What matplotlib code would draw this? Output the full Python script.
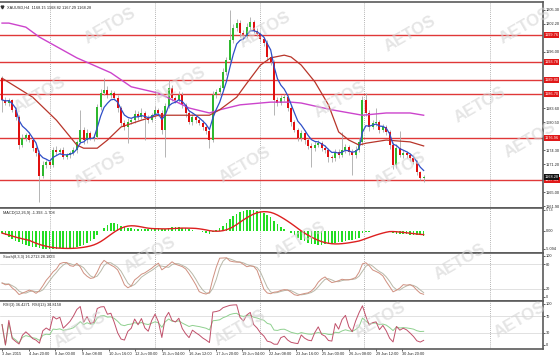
import numpy as np
import pandas as pd
import matplotlib
matplotlib.use("Agg")
import matplotlib.pyplot as plt
from matplotlib.transforms import blended_transform_factory

# XAUUSD H4 bars
first_open = 1190.2
closes = [
    1185.4, 1184.7, 1185.4, 1183.2, 1181.6, 1175.4, 1177.0, 1177.6, 1176.5, 1174.7,
    1173.6, 1168.5, 1171.0, 1171.6, 1171.0, 1174.3, 1173.9, 1174.3, 1172.8, 1173.2,
    1173.6, 1174.3, 1176.1, 1178.7, 1176.5, 1178.1, 1177.0, 1177.2, 1183.8, 1186.9,
    1187.6, 1186.5, 1186.9, 1185.8, 1183.6, 1180.3, 1179.4, 1180.5, 1180.9, 1182.3,
    1181.6, 1182.5, 1181.4, 1180.9, 1182.0, 1183.2, 1182.5, 1178.7, 1184.0, 1188.0,
    1185.8, 1185.4, 1186.5, 1184.3, 1182.5, 1180.5, 1181.6, 1180.9, 1180.3, 1179.4,
    1178.5, 1176.5, 1186.5, 1187.1, 1188.0, 1191.6, 1194.2, 1198.7, 1201.3, 1202.4,
    1200.2, 1199.5, 1201.5, 1202.6, 1200.7, 1200.0, 1198.9, 1198.0, 1194.9, 1193.8,
    1185.4, 1184.7, 1185.8, 1186.0, 1183.6, 1180.5, 1178.7, 1177.0, 1178.1, 1176.5,
    1175.2, 1174.7, 1175.4, 1175.9, 1174.7, 1174.3, 1172.8, 1172.5, 1173.9, 1173.2,
    1174.3, 1175.0, 1173.9, 1173.2, 1174.3, 1176.1, 1185.4, 1182.5, 1179.4, 1180.3,
    1180.5, 1178.7, 1179.4, 1178.3, 1175.4, 1171.0, 1174.7, 1173.2, 1173.6, 1173.2,
    1172.5, 1171.6, 1169.4, 1168.15, 1168.28,
]
wick_up = [
    0.4, 0.6, 0.5, 0.3, 0.6, 0.4, 0.8, 0.5, 0.7, 0.4,
    0.5, 0.6, 0.9, 0.5, 0.7, 0.6, 0.8, 0.4, 0.6, 0.5,
    0.4, 0.7, 0.5, 4.5, 0.6, 0.9, 0.5, 0.6, 0.7, 1.0,
    2.6, 0.8, 0.6, 0.5, 0.7, 0.4, 0.6, 0.8, 0.5, 0.9,
    0.6, 1.2, 0.5, 0.7, 0.6, 0.8, 0.5, 0.6, 0.7, 1.8,
    0.6, 0.5, 0.8, 0.6, 0.5, 0.7, 0.6, 0.5, 0.4, 0.6,
    0.5, 0.4, 0.8, 0.7, 0.6, 0.9, 0.8, 6.6, 0.8, 0.9,
    0.6, 0.7, 0.9, 1.1, 0.5, 0.6, 0.4, 0.5, 0.6, 0.5,
    0.4, 0.6, 0.7, 0.8, 0.5, 0.6, 0.4, 0.5, 0.7, 0.6,
    0.5, 0.6, 0.8, 0.7, 0.5, 0.6, 0.4, 0.5, 0.7, 0.6,
    4.0, 0.7, 0.5, 0.6, 0.8, 0.9, 0.8, 1.5, 0.6, 0.7,
    3.1, 0.5, 0.6, 0.5, 0.4, 0.6, 0.9, 3.8, 0.7, 0.5,
    0.4, 0.6, 0.5, 0.35, 0.54,
]
wick_dn = [
    2.7, 0.5, 0.6, 0.4, 0.7, 0.8, 0.5, 0.6, 0.4, 0.7,
    0.6, 5.7, 0.5, 0.7, 0.6, 0.5, 0.8, 0.4, 0.6, 0.5,
    0.7, 0.5, 0.6, 0.5, 0.9, 0.6, 0.5, 0.7, 0.4, 0.6,
    0.5, 0.7, 0.6, 0.5, 0.8, 0.6, 0.7, 3.5, 0.5, 0.6,
    0.7, 0.5, 4.9, 0.6, 0.5, 0.7, 0.6, 0.8, 5.9, 0.5,
    0.6, 0.7, 0.5, 0.6, 0.8, 0.5, 0.7, 0.6, 0.5, 0.7,
    0.6, 1.8, 0.5, 0.6, 0.7, 0.5, 0.6, 0.5, 0.7, 0.6,
    0.8, 0.6, 0.5, 0.7, 0.6, 0.5, 0.7, 0.6, 0.8, 0.7,
    3.4, 0.6, 0.5, 0.7, 0.6, 0.8, 0.5, 0.7, 0.6, 0.9,
    0.7, 4.2, 0.6, 0.5, 0.7, 0.6, 1.2, 0.8, 0.6, 0.7,
    0.5, 0.6, 0.7, 4.4, 0.6, 0.5, 0.7, 0.6, 0.8, 0.5,
    0.6, 0.7, 0.5, 0.6, 0.8, 1.0, 0.6, 0.5, 0.7, 0.6,
    0.7, 0.5, 0.6, 0.5, 0.86,
]

# MACD main line, one value per bar
macd_main = [
    -0.7, -1.2, -1.8, -2.4, -2.9, -3.3, -3.7, -4.0, -4.3, -4.5,
    -4.6, -4.8, -5.0, -5.0, -5.1, -5.0, -5.0, -4.9, -4.9, -4.8,
    -4.8, -4.7, -4.5, -4.2, -3.9, -3.5, -3.0, -2.3, -1.2, -0.2,
    0.8, 1.6, 2.0, 2.1, 1.8, 1.4, 1.0, 0.8, 0.6, 0.5,
    0.5, 0.5, 0.4, 0.4, 0.5, 0.6, 0.6, 0.4, 0.4, 0.8,
    0.9, 0.9, 0.9, 0.8, 0.6, 0.4, 0.2, 0.0, -0.2, -0.4,
    -0.6, -0.9, -0.3, 0.2, 0.7, 1.4, 2.2, 3.1, 4.0, 4.7,
    5.1, 5.4, 5.6, 5.7, 5.6, 5.4, 5.1, 4.8, 4.3, 3.7,
    2.6, 1.7, 1.0, 0.5, -0.1, -0.7, -1.3, -2.0, -2.5, -3.0,
    -3.4, -3.7, -3.8, -3.9, -3.9, -3.8, -3.7, -3.6, -3.5, -3.3,
    -3.1, -2.9, -2.7, -2.5, -2.3, -2.0, -0.8, -0.4, -0.3, -0.1,
    0.0, -0.1, -0.1, -0.2, -0.4, -0.8, -0.9, -1.0, -1.0, -1.0,
    -1.1, -1.1, -1.2, -1.3, -1.39,
]

# slow moving averages read at a few bars
brown_bars = [0, 9, 16, 22, 24, 28, 31, 35, 41, 46, 61, 64, 69, 72, 76, 79, 83, 85,
              88, 92, 96, 99, 102, 105, 107, 113, 120, 124]
brown_vals = [1190.2, 1186.0, 1180.9, 1175.4, 1174.7, 1174.7, 1176.5, 1179.4, 1180.9,
              1182.0, 1182.0, 1183.2, 1186.0, 1189.1, 1193.1, 1194.7, 1195.3, 1194.9,
              1193.1, 1189.4, 1184.3, 1178.3, 1176.5, 1175.4, 1175.8, 1176.5, 1176.1, 1175.2]
magenta_bars = [0, 2, 7, 11, 22, 32, 38, 46, 55, 61, 64, 70, 79, 85, 88, 97, 106, 113, 120, 124]
magenta_vals = [1202.4, 1202.4, 1201.5, 1199.3, 1194.7, 1191.4, 1188.3, 1186.9, 1183.6,
                1182.5, 1183.2, 1184.3, 1184.9, 1184.9, 1184.7, 1183.2, 1182.0, 1182.5,
                1182.5, 1182.0]

levels = [1199.76, 1193.78, 1189.80, 1186.70, 1176.96, 1167.66]
price_ticks = [1205.30, 1202.20, 1199.10, 1196.00, 1192.90, 1189.80, 1186.70, 1183.60,
               1180.50, 1177.40, 1174.30, 1171.20, 1168.10, 1165.00, 1161.90]
date_labels = ["3 Jun 2015", "4 Jun 20:00", "8 Jun 00:00", "9 Jun 08:00", "10 Jun 16:00",
               "12 Jun 00:00", "15 Jun 04:00", "16 Jun 12:00", "17 Jun 20:00", "19 Jun 04:00",
               "22 Jun 08:00", "23 Jun 16:00", "25 Jun 00:00", "26 Jun 08:00", "29 Jun 12:00",
               "30 Jun 20:00"]

plt.rcParams['font.family'] = ['Liberation Sans', 'DejaVu Sans']

# ---- derived series
c = pd.Series(closes)
opens = pd.Series([first_open] + closes[:-1])
highs = np.maximum(opens, c) + np.array(wick_up)
lows = np.minimum(opens, c) - np.array(wick_dn)
x = np.arange(len(c))

ema_fast = c.ewm(span=5, adjust=False).mean()
macd = pd.Series(macd_main)
macd_sig = macd.rolling(9, min_periods=1).mean()

hh = highs.rolling(8, min_periods=1).max()
ll = lows.rolling(8, min_periods=1).min()
stoch_k = (c - ll).rolling(3, min_periods=1).sum() / (hh - ll).rolling(3, min_periods=1).sum() * 100
stoch_d = stoch_k.rolling(3, min_periods=1).mean()


def rsi(s, n):
    d = s.diff().fillna(0)
    up = d.clip(lower=0).ewm(alpha=1 / n, adjust=False).mean()
    dn = (-d.clip(upper=0)).ewm(alpha=1 / n, adjust=False).mean()
    return (100 - 100 / (1 + up / dn.replace(0, np.nan))).fillna(50)


rsi_fast = rsi(c, 3)
rsi_slow = rsi(c, 13)

# ---- figure
W, H = 560, 356
fig = plt.figure(figsize=(W / 100, H / 100), dpi=100)
fig.patch.set_facecolor("white")


def px_axes(top, bottom):
    return fig.add_axes([0, 1 - bottom / H, 543 / W, (bottom - top) / H])


ax = px_axes(2, 208)
ax_macd = px_axes(208, 253)
ax_st = px_axes(253, 301)
ax_rsi = px_axes(301, 349)
axes = [ax, ax_macd, ax_st, ax_rsi]

xmin, xmax = -0.6, 159.1
grid_x = [14.1, 45.0, 75.9, 106.5, 143.5]
fs = 2.8
for a in axes:
    a.set_xlim(xmin, xmax)
    a.set_facecolor("white")
    for s in ["top", "bottom", "right"]:
        a.spines[s].set_color("#5a5a5a")
        a.spines[s].set_linewidth(1.2)
    a.spines["left"].set_visible(False)
    a.yaxis.tick_right()
    a.tick_params(axis="y", labelsize=fs, length=1.2, width=0.5, pad=0.8, colors="#222222")
    a.tick_params(axis="x", length=0, labelbottom=False)
    for gx in grid_x:
        a.axvline(gx, color="#9a9a9a", lw=0.6, ls=(0, (1, 1.5)), zorder=0)

# AETOS watermark over the whole picture
wm_pos = [(110, 26), (265, 30), (410, 34), (525, 26),
          (40, 95), (180, 85), (340, 100), (480, 105),
          (100, 170), (245, 165), (400, 170), (530, 140),
          (150, 255), (300, 240), (460, 262),
          (80, 330), (240, 328), (380, 320), (520, 320)]
for wx, wy in wm_pos:
    fig.text(wx / W, 1 - wy / H, "AETOS", fontsize=12, fontweight="bold", color="#d4d4d4",
             rotation=30, ha="center", va="center", zorder=10, alpha=0.6)

# main price panel
up_col, dn_col = "#2eb82e", "#e01010"
for i in range(len(c)):
    o, cl = opens[i], c[i]
    col = up_col if cl >= o else dn_col
    ax.vlines(x[i], lows[i], highs[i], color="#a8a8a8", lw=0.6, zorder=2)
    ax.bar(x[i], max(abs(cl - o), 0.15), bottom=min(o, cl), width=0.6, color=col,
           linewidth=0, zorder=3)
for lv in levels:
    ax.axhline(lv, color="#e03838", lw=1.0, zorder=1)
ax.plot(magenta_bars, magenta_vals, color="#cc44cc", lw=1.0, zorder=4)
ax.plot(brown_bars, brown_vals, color="#b8352a", lw=0.9, zorder=4)
ax.plot(x, ema_fast, color="#2f4fc8", lw=0.9, zorder=5)
ax.set_ylim(1161.46, 1207.07)
shown = [t for t in price_ticks if min(abs(t - lv) for lv in levels + [closes[-1]]) > 1.0]
ax.set_yticks(shown)
ax.set_yticklabels([f"{t:.2f}" for t in shown])

tr = blended_transform_factory(ax.transAxes, ax.transData)
for lv in levels:
    ax.text(1.003, lv, f"{lv:.2f}", transform=tr, fontsize=fs, color="white", va="center",
            ha="left", bbox=dict(boxstyle="square,pad=0.2", fc="#e01818", ec="none"), clip_on=False)
ax.text(1.003, c.iloc[-1], f"{c.iloc[-1]:.2f}", transform=tr, fontsize=fs, color="white",
        va="center", ha="left", bbox=dict(boxstyle="square,pad=0.2", fc="#111111", ec="none"),
        clip_on=False)
ax.text(0.012, 0.985, "XAUUSD,H4  1168.15 1168.82 1167.29 1168.28", transform=ax.transAxes,
        fontsize=fs, va="top", ha="left", color="#222222")
ax.plot([0.004], [0.978], marker="v", ms=2, color="#333333", transform=ax.transAxes, clip_on=False)

# MACD panel
ax_macd.bar(x, macd, width=0.45, color="#22dd22", linewidth=0, zorder=2)
ax_macd.plot(x, macd_sig, color="#dd2020", lw=1.0, zorder=3)
ax_macd.set_ylim(-6.22, 6.28)
ax_macd.set_yticks([5.73, 0.0, -5.094])
ax_macd.set_yticklabels(["5.73", "0.00", "-5.094"])
ax_macd.text(0.006, 0.93, "MACD(12,26,9) -1.393 -1.708", transform=ax_macd.transAxes,
             fontsize=fs, va="top", ha="left", color="#222222")

# Stochastic panel
for lv in [80, 20]:
    ax_st.axhline(lv, color="#d4d4d4", lw=0.5, zorder=0)
ax_st.plot(x, stoch_d, color="#b8b8a8", lw=0.7, zorder=2)
ax_st.plot(x, stoch_k, color="#d09080", lw=0.7, zorder=3)
ax_st.set_ylim(-9.8, 107.3)
ax_st.set_yticks([100, 80, 20, 0])
ax_st.text(0.006, 0.95, "Stoch(8,3,3) 16.2713 28.1833", transform=ax_st.transAxes,
           fontsize=fs, va="top", ha="left", color="#222222")

# RSI panel
for lv in [70, 30]:
    ax_rsi.axhline(lv, color="#d4d4d4", lw=0.5, zorder=0)
ax_rsi.plot(x, rsi_slow, color="#8fd08f", lw=0.7, zorder=2)
ax_rsi.plot(x, rsi_fast, color="#c0506a", lw=0.7, zorder=3)
ax_rsi.set_ylim(-9.8, 107.3)
ax_rsi.set_yticks([100, 70, 30, 0])
ax_rsi.text(0.006, 0.95, "RSI(3) 36.4271  RSI(13) 38.8158", transform=ax_rsi.transAxes,
            fontsize=fs, va="top", ha="left", color="#222222")

xt = np.arange(len(date_labels)) * 7.85
ax_rsi.set_xticks(xt)
ax_rsi.set_xticklabels(date_labels, ha="left")
ax_rsi.tick_params(axis="x", labelbottom=True, labelsize=fs, length=1.5, width=0.5, pad=0.5,
                   colors="#222222")

fig.savefig("out.png", dpi=100, facecolor="white")
